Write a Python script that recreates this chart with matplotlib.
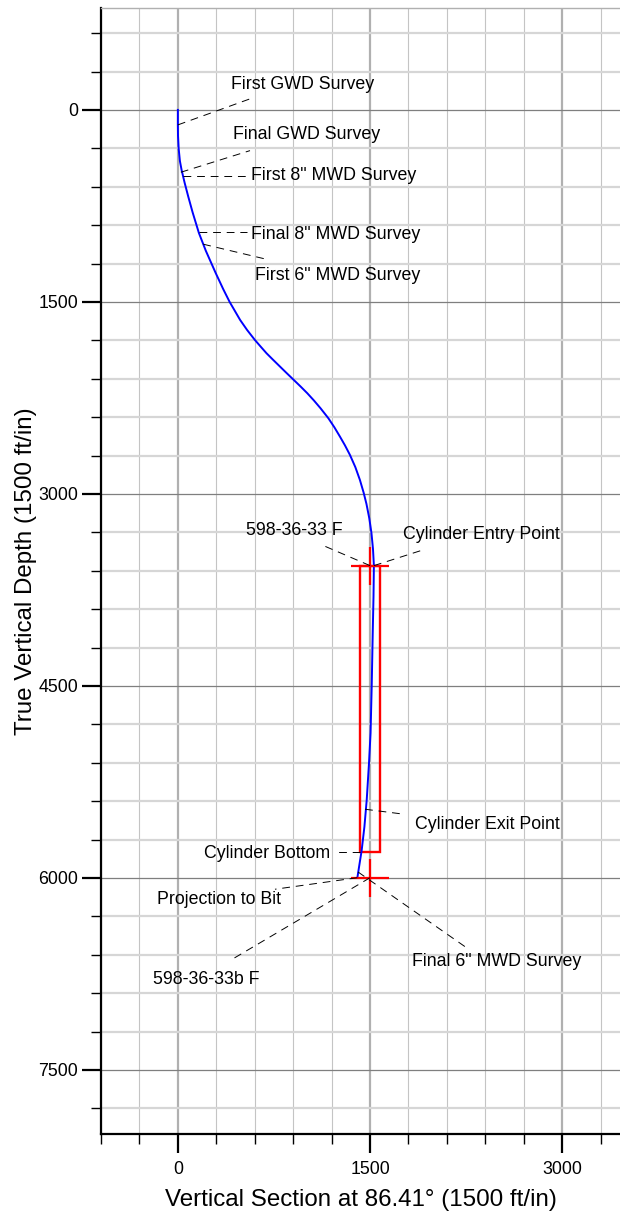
import matplotlib
matplotlib.use("Agg")
import matplotlib.pyplot as plt
from matplotlib.patches import Rectangle
from matplotlib.ticker import MultipleLocator

plt.rcParams['font.family'] = ['Liberation Sans', 'DejaVu Sans']

# ---------------- data ----------------
# well path (vertical section ft, true vertical depth ft)
path_tvd = [0, 117, 200, 300, 400, 469, 570, 677, 800, 961, 1100, 1276, 1400,
            1500, 1641, 1720, 1797, 1850, 1901, 1950, 2000, 2050, 2104, 2160,
            2213, 2270, 2330, 2409, 2480, 2552, 2620, 2695, 2790, 2891, 2990,
            3078, 3190, 3305, 3430, 3560, 3800, 4086, 4500, 4867, 5100, 5391,
            5600, 5781, 5998]
path_vs = [0, 0, 1, 6, 16, 29, 53, 81, 115, 164, 218, 296, 354,
           404, 486, 541, 601, 647, 692, 741, 792, 843, 899, 957,
           1010, 1062, 1113, 1175, 1222, 1265, 1304, 1343, 1385, 1421, 1450,
           1472, 1494, 1511, 1523, 1530, 1527, 1521, 1513, 1504, 1492, 1474,
           1456, 1435, 1401]

# targets (crosses)
target_vs = [1500, 1500]
target_tvd = [3560, 6000]

# cylinder
cyl_vs_left = 1419
cyl_vs_right = 1578
cyl_tvd_top = 3560
cyl_tvd_bottom = 5797

# annotations: label, point on chart (vs, tvd)
ann_labels = ["First GWD Survey", "Final GWD Survey", "First 8\" MWD Survey",
              "Final 8\" MWD Survey", "First 6\" MWD Survey", "598-36-33 F",
              "Cylinder Entry Point", "Cylinder Exit Point", "Cylinder Bottom",
              "Projection to Bit", "598-36-33b F", "Final 6\" MWD Survey"]
ann_point_vs = [0, 23, 37, 164, 198, 1500, 1530, 1461, 1422, 1401, 1500, 1406]
ann_point_tvd = [117, 487, 516, 953, 1049, 3560, 3560, 5463, 5797, 5998, 5998, 5953]

x_major = [0, 1500, 3000]
y_major = [0, 1500, 3000, 4500, 6000, 7500]

# ---------------- layout (leader ends and text anchors) ----------------
lead_end = [(576, -91), (563, 318), (537, 516), (537, 953), (680, 1164),
            (1123, 3398), (1930, 3432), (1766, 5502), (1245, 5797),
            (758, 6088), (414, 6641), (2242, 6537)]
text_pos = [(414, -195, 'left'), (430, 195, 'left'), (568, 516, 'left'),
            (570, 972, 'left'), (604, 1297, 'left'), (529, 3287, 'left'),
            (1760, 3320, 'left'), (1852, 5586, 'left'), (1187, 5805, 'right'),
            (-162, 6166, 'left'), (-198, 6791, 'left'), (1826, 6654, 'left')]

W, H = 620, 1215
fig = plt.figure(figsize=(W / 100, H / 100), dpi=100)
ax = fig.add_axes([101 / W, (H - 1134) / H, 519 / W, (1134 - 7.5) / H])

ax.set_xlim(-600, 3451)
ax.set_ylim(8000, -800)

ax.set_xticks(x_major)
ax.set_yticks(y_major)
ax.xaxis.set_minor_locator(MultipleLocator(300))
ax.yaxis.set_minor_locator(MultipleLocator(300))

# grid
ax.xaxis.grid(True, which='minor', color='#c4c4c4', lw=0.8, zorder=0)
ax.xaxis.grid(True, which='major', color='#b0b0b0', lw=1.6, zorder=0)
ax.yaxis.grid(True, which='minor', color='#d6d6d6', lw=1.6, zorder=0)
ax.yaxis.grid(True, which='major', color='#7f7f7f', lw=0.9, zorder=0)
ax.set_axisbelow(True)

ax.spines['right'].set_visible(False)
ax.spines['top'].set_color('#b0b0b0')
ax.spines['top'].set_linewidth(1.0)
ax.spines['left'].set_linewidth(1.6)
ax.spines['bottom'].set_linewidth(1.6)

ax.tick_params(which='major', direction='out', length=13.5, width=1.6,
               labelsize=12.8, pad=3)
ax.tick_params(which='minor', direction='out', length=7, width=1.0)
ax.tick_params(axis='x', which='major', pad=6)

ax.set_xlabel("Vertical Section at 86.41° (1500 ft/in)", fontsize=17.4, labelpad=8)
ax.set_ylabel("True Vertical Depth (1500 ft/in)", fontsize=17.4, labelpad=1)

# well path
ax.plot(path_vs, path_tvd, color='#0000ff', lw=1.4, zorder=4)

# cylinder
ax.add_patch(Rectangle((cyl_vs_left, cyl_tvd_top), cyl_vs_right - cyl_vs_left,
                       cyl_tvd_bottom - cyl_tvd_top, fill=False,
                       edgecolor='#ff0000', lw=1.7, zorder=3))
# target crosses
ax.plot(target_vs, target_tvd, ls='none', marker='+', markersize=27,
        markeredgewidth=1.6, color='#ff0000', zorder=5)

# annotations
for lab, px, py, (ex, ey), (tx, ty, ha) in zip(ann_labels, ann_point_vs, ann_point_tvd,
                                               lead_end, text_pos):
    ax.plot([px, ex], [py, ey], color='black', lw=0.7, dashes=(8, 6), zorder=6)
    ax.text(tx, ty, lab, ha=ha, va='center', fontsize=12.8, zorder=7)

fig.savefig("out.png", dpi=100)
